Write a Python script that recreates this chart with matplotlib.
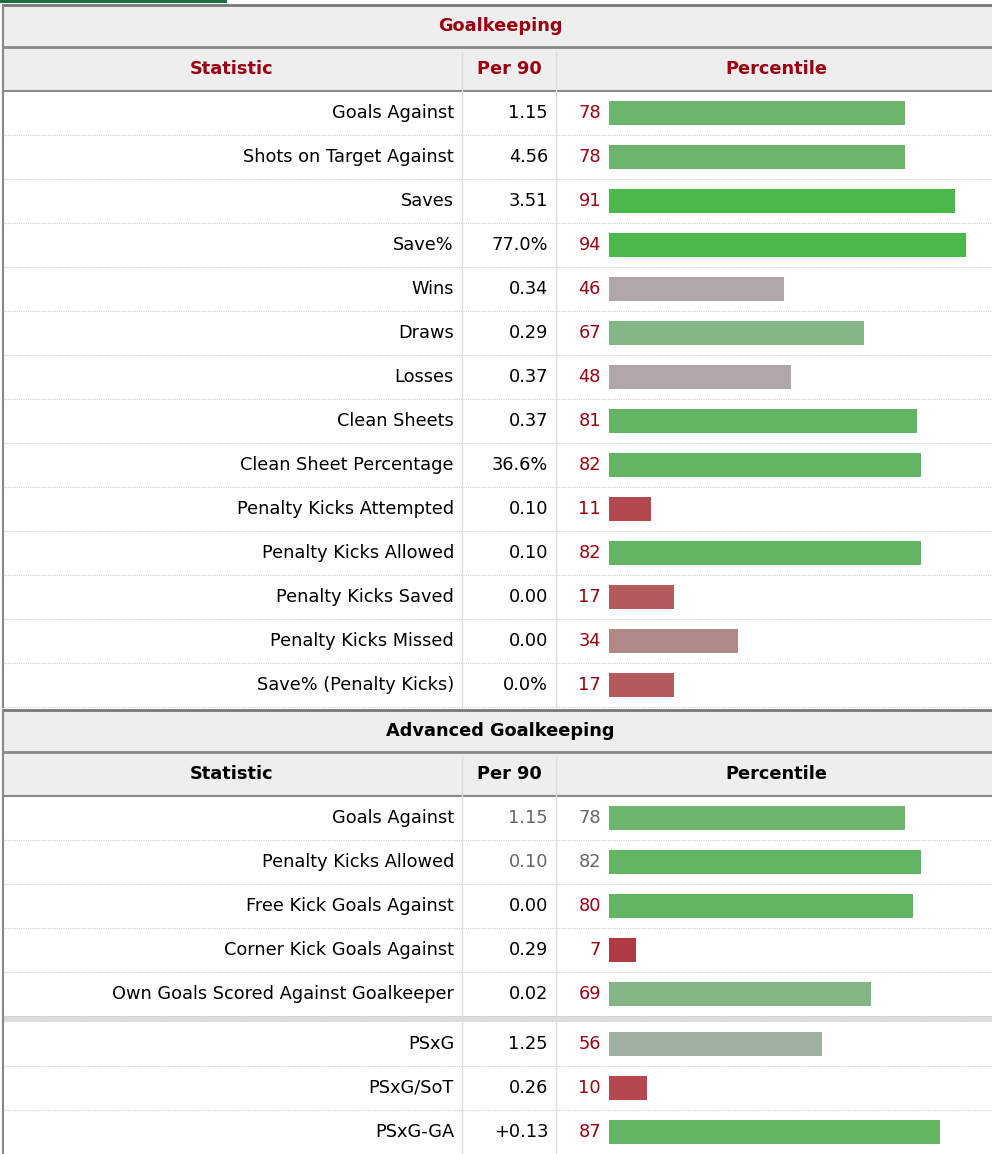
import matplotlib
matplotlib.use("Agg")
import matplotlib.pyplot as plt
from matplotlib.patches import Rectangle

stats1 = ["Goals Against", "Shots on Target Against", "Saves", "Save%", "Wins", "Draws",
          "Losses", "Clean Sheets", "Clean Sheet Percentage", "Penalty Kicks Attempted",
          "Penalty Kicks Allowed", "Penalty Kicks Saved", "Penalty Kicks Missed",
          "Save% (Penalty Kicks)"]
per90_1 = ["1.15", "4.56", "3.51", "77.0%", "0.34", "0.29", "0.37", "0.37", "36.6%",
           "0.10", "0.10", "0.00", "0.00", "0.0%"]
pct1 = [78, 78, 91, 94, 46, 67, 48, 81, 82, 11, 82, 17, 34, 17]

stats2 = ["Goals Against", "Penalty Kicks Allowed", "Free Kick Goals Against",
          "Corner Kick Goals Against", "Own Goals Scored Against Goalkeeper",
          "PSxG", "PSxG/SoT", "PSxG-GA"]
per90_2 = ["1.15", "0.10", "0.00", "0.29", "0.02", "1.25", "0.26", "+0.13"]
pct2 = [78, 82, 80, 7, 69, 56, 10, 87]
grey2 = [True, True, False, False, False, False, False, False]


def bar_color(p):
    if p >= 90: return "#4cb84c"
    if p >= 80: return "#63b563"
    if p >= 75: return "#6db56d"
    if p >= 65: return "#84b584"
    if p >= 55: return "#a0b0a0"
    if p >= 40: return "#b0a8a8"
    if p >= 30: return "#b08888"
    if p >= 15: return "#b25a5e"
    if p >= 9: return "#b5484f"
    return "#b03a44"


W, H = 992, 1154
fig = plt.figure(figsize=(W / 100, H / 100), dpi=100)
ax = fig.add_axes([0, 0, 1, 1])
ax.set_xlim(0, W)
ax.set_ylim(H, 0)
ax.axis("off")

RED = "#990011"
FS = 12.8
HFS = 12.8
C1, C2 = 462, 556
BX0, SCALE = 609, 3.8
ROW = 44


def section(y0, title, tcolor, hcolor):
    ax.add_patch(Rectangle((3, y0), W, 42, color="#eeeeee", lw=0))
    ax.text(500, y0 + 21, title, ha="center", va="center", fontsize=HFS, weight="bold", color=tcolor)
    ax.plot([3, W], [y0, y0], color="#777777", lw=2)
    ax.plot([3, W], [y0 + 42, y0 + 42], color="#888888", lw=2)
    ax.add_patch(Rectangle((3, y0 + 43), W, 43, color="#eeeeee", lw=0))
    hy = y0 + 64
    ax.text(232, hy, "Statistic", ha="center", va="center", fontsize=HFS, weight="bold", color=hcolor)
    ax.text(509, hy, "Per 90", ha="center", va="center", fontsize=HFS, weight="bold", color=hcolor)
    ax.text(776, hy, "Percentile", ha="center", va="center", fontsize=HFS, weight="bold", color=hcolor)
    ax.plot([3, W], [y0 + 86, y0 + 86], color="#888888", lw=1.5)
    return y0 + 86


def rows(ystart, names, vals, pcts, greys):
    for i, (n, v, p, g) in enumerate(zip(names, vals, pcts, greys)):
        yc = ystart + ROW * i + 22
        ax.text(454, yc, n, ha="right", va="center", fontsize=FS, color="black")
        ax.text(548, yc, v, ha="right", va="center", fontsize=FS, color="#666666" if g else "black")
        ax.text(601, yc, str(p), ha="right", va="center", fontsize=FS, color="#666666" if g else RED)
        ax.barh(yc, p * SCALE, left=BX0, height=24, color=bar_color(p), lw=0)
        ax.plot([3, W], [ystart + ROW * (i + 1), ystart + ROW * (i + 1)], color="#cccccc", lw=0.8, ls=(0, (1, 1)))


y = section(5, "Goalkeeping", RED, RED)
rows(y, stats1, per90_1, pct1, [False] * len(stats1))
ax.plot([C1, C1], [52, y + ROW * 14], color="#dddddd", lw=1)
ax.plot([C2, C2], [52, y + ROW * 14], color="#dddddd", lw=1)
ax.plot([3, 3], [5, y + ROW * 14], color="#888888", lw=1.5)

y2 = section(710, "Advanced Goalkeeping", "black", "black")
rows(y2, stats2[:5], per90_2[:5], pct2[:5], grey2[:5])
ysep = y2 + ROW * 5
ax.add_patch(Rectangle((3, ysep), W, 6, color="#dddddd", lw=0))
y3 = ysep + 6
rows(y3, stats2[5:], per90_2[5:], pct2[5:], grey2[5:])
ax.plot([C1, C1], [757, H], color="#dddddd", lw=1)
ax.plot([C2, C2], [757, H], color="#dddddd", lw=1)
ax.plot([3, 3], [710, H], color="#888888", lw=1.5)

ax.plot([0, 225], [1, 1], color="#1f6b3a", lw=3)

fig.savefig("out.png", dpi=100)
